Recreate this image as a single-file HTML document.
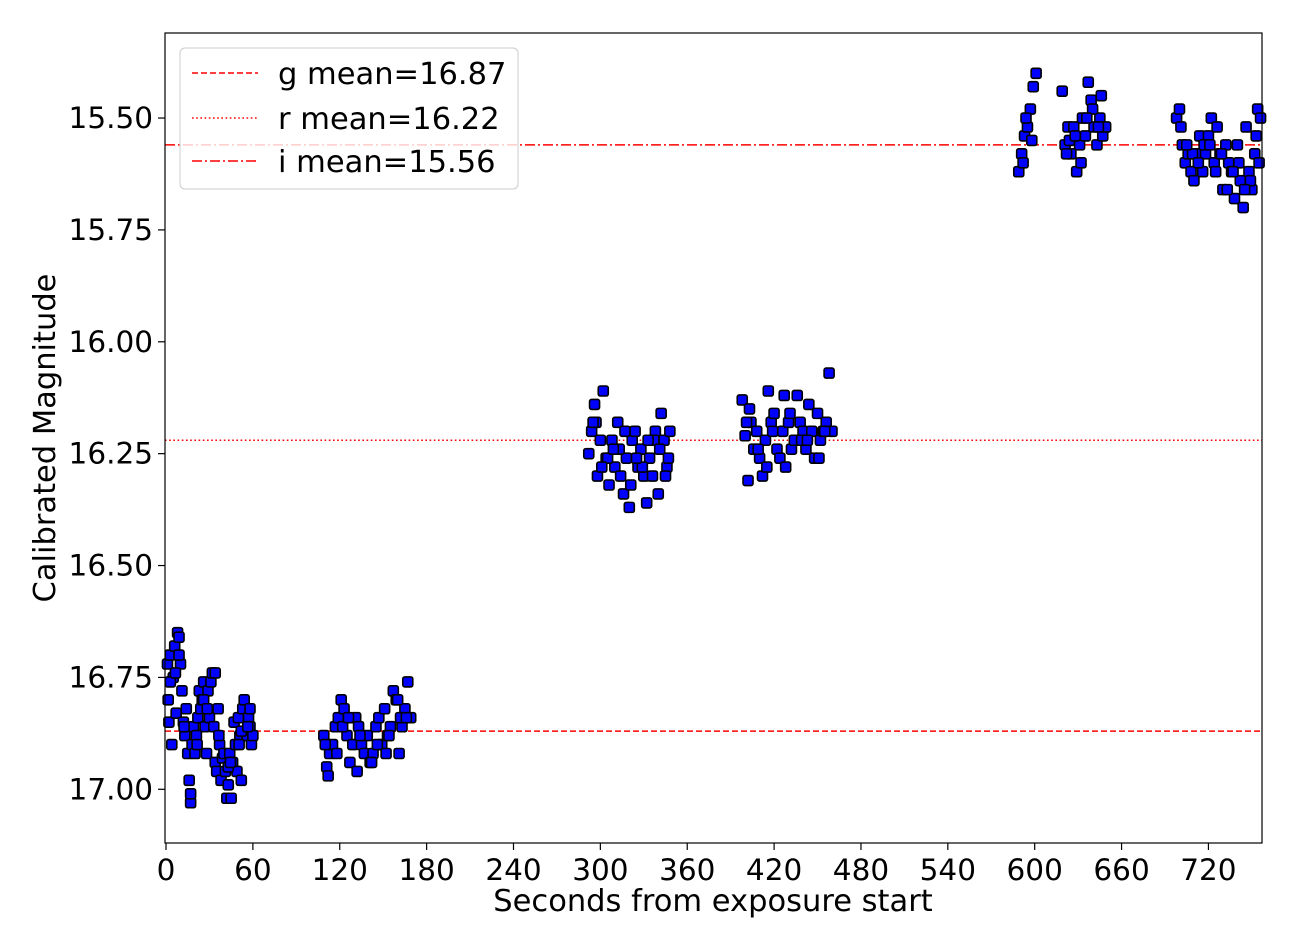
<!DOCTYPE html>
<html><head><meta charset="utf-8"><style>
html,body{margin:0;padding:0;background:#fff;}
svg{display:block;font-family:"DejaVu Sans","Liberation Sans",sans-serif;}
</style></head><body>
<svg id="chart" width="1295" height="950">
<g id="means"></g>
<g id="points"></g>
<rect x="165" y="33" width="1097" height="810" fill="none" stroke="#000" stroke-width="1.2"/>
<g id="xticks"></g>
<g id="yticks"></g>
<text x="713" y="911" font-size="30.5" text-anchor="middle">Seconds from exposure start</text>
<text transform="translate(55,438) rotate(-90)" font-size="30.5" text-anchor="middle">Calibrated Magnitude</text>
<g>
<rect x="180" y="48" width="338" height="141" rx="5" fill="#fff" fill-opacity="0.8" stroke="#ccc"/>
<line x1="192" y1="73" x2="258" y2="73" stroke="red" stroke-width="1.6" stroke-dasharray="6,3"/>
<text x="278" y="84" font-size="30.5">g mean=16.87</text>
<line x1="192" y1="118" x2="258" y2="118" stroke="red" stroke-width="1.6" stroke-dasharray="1.6,2.6"/>
<text x="278" y="129" font-size="30.5">r mean=16.22</text>
<line x1="192" y1="161" x2="258" y2="161" stroke="red" stroke-width="1.6" stroke-dasharray="10,3,2,3"/>
<text x="278" y="172" font-size="30.5">i mean=15.56</text>
</g>
</svg>
<script>
const xTicks=[0,60,120,180,240,300,360,420,480,540,600,660,720];
const yTicks=[15.50,15.75,16.00,16.25,16.50,16.75,17.00];
const meanValues=[16.87,16.22,15.56];
const meanDash=["6,3","1.6,2.6","10,3,2,3"];
const times=[
1,2,3,4,5,6,7,8,9,10,11,12,13,14,15,16,17,18,19,20,21,22,23,24,25,26,27,28,29,30,31,32,33,34,35,36,37,38,39,40,41,42,43,44,45,46,47,48,49,50,51,52,53,54,55,56,57,58,59,60,3,9,17,26,34,43,52,58,
1.5,6.5,12.5,21.5,28.5,36.5,44.5,50.5,56.5,
109,111,113,115,117,119,121,123,125,127,129,131,133,135,137,139,141,143,145,147,149,151,153,155,157,159,161,163,165,167,169,112,122,132,142,152,162,
110,118,126,134,146,154,160,166,
292,294,296,298,300,302,304,306,308,310,312,314,316,318,320,322,324,326,328,330,332,334,336,338,340,342,344,346,348,297,305,313,321,329,337,345,
295,301,309,317,325,333,341,347,
398,400,402,404,406,408,410,412,414,416,418,420,422,424,426,428,430,432,434,436,438,440,442,444,446,448,450,452,454,456,458,460,403,415,427,439,451,
401,409,419,431,443,455,
589,591,593,595,597,599,601,619,621,623,625,627,629,631,633,635,637,639,641,643,645,647,649,592,598,624,632,640,646,
594,622,628,636,644,
698,700,702,704,706,708,710,712,714,716,718,720,722,724,726,728,730,732,734,736,738,740,742,744,746,748,750,752,754,756,701,709,717,725,733,741,749,755,
705,713,721,729,737,745,753];
const mags=[
16.72,16.85,16.70,16.90,16.75,16.68,16.83,16.65,16.66,16.72,16.78,16.85,16.88,16.82,16.92,16.98,17.03,16.90,16.86,16.92,16.88,16.84,16.78,16.82,16.80,16.76,16.86,16.92,16.78,16.84,16.76,16.74,16.86,16.94,16.96,16.82,16.90,16.98,16.93,16.92,16.96,17.02,16.99,16.92,17.02,16.94,16.85,16.90,16.96,16.84,16.88,16.98,16.82,16.80,16.87,16.88,16.84,16.86,16.90,16.88,16.76,16.70,17.01,16.80,16.74,16.95,16.87,16.82,
16.80,16.74,16.86,16.90,16.82,16.88,16.94,16.90,16.86,
16.88,16.95,16.92,16.90,16.86,16.84,16.80,16.82,16.88,16.94,16.90,16.84,16.86,16.90,16.92,16.88,16.94,16.92,16.86,16.84,16.90,16.82,16.88,16.86,16.78,16.80,16.92,16.86,16.82,16.76,16.84,16.97,16.86,16.96,16.94,16.92,16.84,
16.90,16.92,16.84,16.88,16.90,16.88,16.80,16.84,
16.25,16.20,16.14,16.30,16.22,16.11,16.26,16.32,16.22,16.28,16.18,16.30,16.34,16.26,16.37,16.22,16.20,16.28,16.24,16.30,16.36,16.26,16.30,16.20,16.34,16.16,16.22,16.28,16.20,16.18,16.26,16.24,16.32,16.28,16.22,16.30,
16.18,16.28,16.24,16.20,16.26,16.22,16.24,16.26,
16.13,16.21,16.31,16.18,16.24,16.20,16.26,16.30,16.22,16.11,16.18,16.16,16.24,16.26,16.20,16.28,16.18,16.24,16.22,16.12,16.18,16.20,16.24,16.14,16.20,16.26,16.16,16.22,16.20,16.18,16.07,16.20,16.15,16.28,16.12,16.22,16.26,
16.18,16.24,16.20,16.16,16.22,16.20,
15.62,15.58,15.54,15.52,15.48,15.43,15.40,15.44,15.56,15.52,15.58,15.52,15.62,15.56,15.50,15.54,15.42,15.46,15.52,15.56,15.50,15.54,15.52,15.60,15.55,15.55,15.60,15.48,15.45,
15.50,15.58,15.54,15.50,15.52,
15.50,15.48,15.56,15.60,15.58,15.62,15.64,15.58,15.54,15.62,15.58,15.54,15.50,15.60,15.52,15.58,15.66,15.56,15.60,15.62,15.68,15.56,15.64,15.70,15.52,15.62,15.66,15.58,15.48,15.50,15.52,15.58,15.56,15.62,15.66,15.60,15.64,15.60,
15.56,15.60,15.56,15.58,15.62,15.66,15.54];
const X0=-0.7,X1=757,Y0=15.31,Y1=17.12,L=165,R=1262,T=33,B=843;
function xs(v){return L+(v-X0)/(X1-X0)*(R-L);}
function ys(v){return T+(v-Y0)/(Y1-Y0)*(B-T);}
const NS="http://www.w3.org/2000/svg";
function mk(tag,attrs,parent){const e=document.createElementNS(NS,tag);for(const k in attrs)e.setAttribute(k,attrs[k]);parent.appendChild(e);return e;}
const xg=document.getElementById('xticks'),yg=document.getElementById('yticks'),mg=document.getElementById('means'),pg=document.getElementById('points');
xTicks.forEach(v=>{const x=xs(v);
const l=mk('line',{x1:x,x2:x,y1:B,y2:B+7,stroke:'#000','stroke-width':1.2},xg);


const t=mk('text',{x:x,y:B+37,'font-size':29.5,'text-anchor':'middle'},xg);t.textContent=v;

});
yTicks.forEach(v=>{const y=ys(v);
const l=mk('line',{x1:L-7,x2:L,y1:y,y2:y,stroke:'#000','stroke-width':1.2},yg);


const t=mk('text',{x:L-12,y:y+10,'font-size':29.5,'text-anchor':'end'},yg);t.textContent=v.toFixed(2);

});
meanValues.forEach((v,i)=>{const y=ys(v);
const l=mk('line',{x1:L,x2:R,y1:y,y2:y,stroke:'red','stroke-width':1.6,'stroke-dasharray':meanDash[i]},mg);

});
times.forEach((t,i)=>{const x=xs(t),y=ys(mags[i]);
const r=mk('rect',{x:x-5,y:y-5,width:10,height:10,rx:2,fill:'#0000ff',stroke:'#000','stroke-width':1.6},pg);

});
</script>
</body></html>
